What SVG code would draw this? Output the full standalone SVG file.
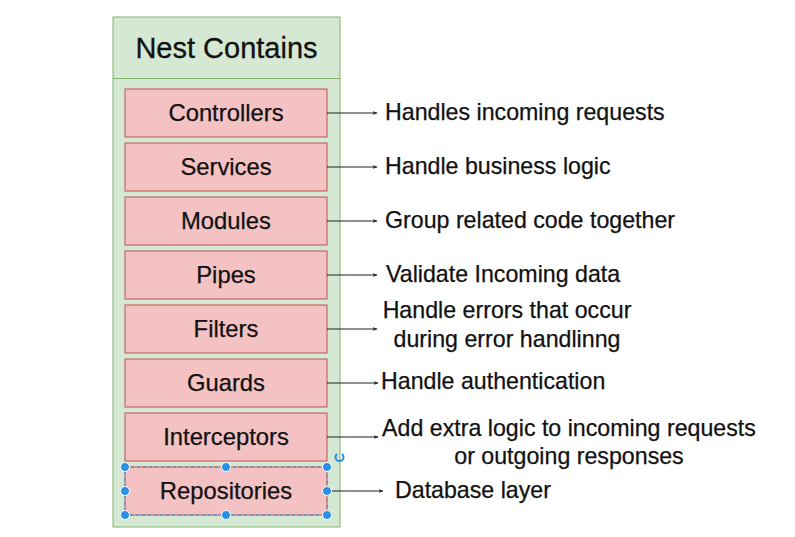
<svg xmlns="http://www.w3.org/2000/svg" width="795" height="537" viewBox="0 0 795 537">
<defs>
<style>
.container{fill:#d5e8d4;stroke:#82b366;stroke-width:1}
.box{fill:#f4c2c2;stroke:#b85450;stroke-width:1}
.title{font-family:"Liberation Sans",Arial,sans-serif;font-size:29px;fill:#111;stroke:#111;stroke-width:0.3;text-anchor:middle}
.lbl{font-family:"Liberation Sans",Arial,sans-serif;font-size:23.8px;fill:#111;stroke:#111;stroke-width:0.25;text-anchor:middle}
.desc{font-family:"Liberation Sans",Arial,sans-serif;font-size:23.2px;fill:#111;stroke:#111;stroke-width:0.25}
.edge{stroke:#222;stroke-width:1.2;fill:none;marker-end:url(#arr)}
.h{fill:#2a8fe6;stroke:#fff;stroke-width:1}
</style>
<marker id="arr" viewBox="0 0 10 10" refX="9" refY="5" markerWidth="5" markerHeight="5" orient="auto" markerUnits="userSpaceOnUse">
<path d="M0,1 L10,5 L0,9 L3,5 Z" fill="#222"/>
</marker>
</defs>
<rect width="795" height="537" fill="#fff"/>
<g id="container">
<rect class="container" x="113" y="17" width="227" height="510"/>
<line x1="113" y1="78.5" x2="340" y2="78.5" stroke="#82b366" stroke-width="1"/>
<text class="title" x="226.5" y="58">Nest Contains</text>
</g>
<g id="controllers"><rect class="box" x="125" y="89" width="202" height="48"/><text class="lbl" x="226" y="121">Controllers</text></g>
<g id="services"><rect class="box" x="125" y="143" width="202" height="48"/><text class="lbl" x="226" y="175">Services</text></g>
<g id="modules"><rect class="box" x="125" y="197" width="202" height="48"/><text class="lbl" x="226" y="229">Modules</text></g>
<g id="pipes"><rect class="box" x="125" y="251" width="202" height="48"/><text class="lbl" x="226" y="283">Pipes</text></g>
<g id="filters"><rect class="box" x="125" y="305" width="202" height="48"/><text class="lbl" x="226" y="337">Filters</text></g>
<g id="guards"><rect class="box" x="125" y="359" width="202" height="48"/><text class="lbl" x="226" y="391">Guards</text></g>
<g id="interceptors"><rect class="box" x="125" y="413" width="202" height="48"/><text class="lbl" x="226" y="445">Interceptors</text></g>
<g id="repositories"><rect class="box" x="125" y="467" width="202" height="48"/><text class="lbl" x="226" y="499">Repositories</text></g>
<g id="connectors">
<line class="edge" x1="327" y1="113" x2="377" y2="113"/>
<line class="edge" x1="327" y1="167" x2="377" y2="167"/>
<line class="edge" x1="327" y1="221" x2="377" y2="221"/>
<line class="edge" x1="327" y1="275" x2="377" y2="275"/>
<line class="edge" x1="327" y1="329" x2="377" y2="329"/>
<line class="edge" x1="327" y1="383" x2="378" y2="383"/>
<line class="edge" x1="327" y1="437" x2="378" y2="437"/>
<line class="edge" x1="327" y1="491" x2="383" y2="491"/>
</g>
<g id="descriptions">
<text class="desc" x="385" y="120">Handles incoming requests</text>
<text class="desc" x="385" y="174">Handle business logic</text>
<text class="desc" x="385" y="228">Group related code together</text>
<text class="desc" x="386" y="282">Validate Incoming data</text>
<text class="desc" x="507" y="318" text-anchor="middle">Handle errors that occur</text>
<text class="desc" x="507" y="347" text-anchor="middle">during error handlinng</text>
<text class="desc" x="381" y="389">Handle authentication</text>
<text class="desc" x="569" y="436" text-anchor="middle">Add extra logic to incoming requests</text>
<text class="desc" x="569" y="464" text-anchor="middle">or outgoing responses</text>
<text class="desc" x="395" y="498">Database layer</text>
</g>
<g id="selection">
<rect x="125" y="467" width="202" height="48" fill="none" stroke="#2a8fe6" stroke-width="1" stroke-dasharray="3 3"/>
<circle class="h" cx="125" cy="467" r="4.5"/><circle class="h" cx="226" cy="467" r="4.5"/><circle class="h" cx="327" cy="467" r="4.5"/>
<circle class="h" cx="125" cy="491" r="4.5"/><circle class="h" cx="327" cy="491" r="4.5"/>
<circle class="h" cx="125" cy="515" r="4.5"/><circle class="h" cx="226" cy="515" r="4.5"/><circle class="h" cx="327" cy="515" r="4.5"/>
<path d="M342,454 A4,4 0 1 1 337,454" fill="none" stroke="#2a8fe6" stroke-width="2"/>
</g>
</svg>
